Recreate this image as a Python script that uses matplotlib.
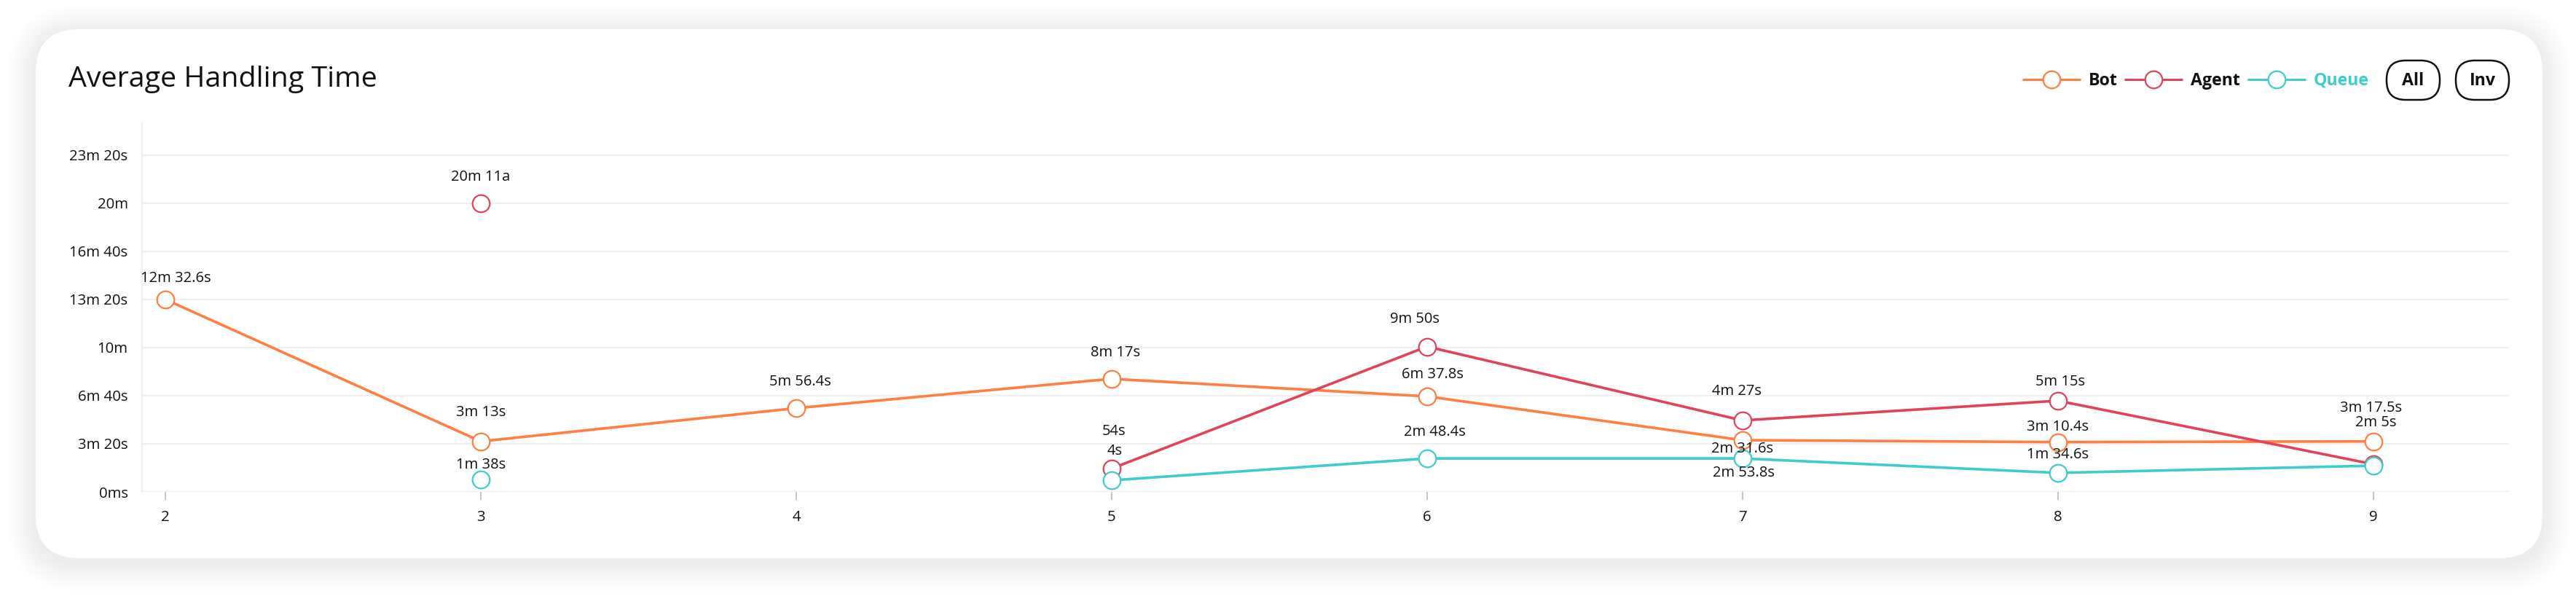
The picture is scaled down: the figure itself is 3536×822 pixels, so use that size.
import matplotlib
matplotlib.use('Agg')
import matplotlib.pyplot as plt
from matplotlib.patches import FancyBboxPatch
import numpy as np

# ---------------- data ----------------
x_cats = [2, 3, 4, 5, 6, 7, 8, 9]
bot_vals = [800, 210, 348, 470, 397, 215, 207, 210]
agent_vals = [None, 1200, None, 97, 604, 297, 379, 115]
queue_vals = [None, 52, None, 48, 139, 139, 79, 109]

bot_labels = ['12m 32.6s', '3m 13s', '5m 56.4s', '8m 17s', '6m 37.8s', '2m 31.6s', '3m 10.4s', '3m 17.5s']
agent_labels = [None, '20m 11a', None, '54s', '9m 50s', '4m 27s', '5m 15s', '2m 5s']
queue_labels = [None, '1m 38s', None, '4s', '2m 48.4s', '2m 53.8s', '1m 34.6s', None]

y_ticks = [0, 200, 400, 600, 800, 1000, 1200, 1400]
y_tick_labels = ['0ms', '3m 20s', '6m 40s', '10m', '13m 20s', '16m 40s', '20m', '23m 20s']

series_names = ['Bot', 'Agent', 'Queue']
title_text = 'Average Handling Time'

# ---------------- style ----------------
W, H, DPI = 3536, 822, 100
FONT = 'Open Sans'
plt.rcParams['font.family'] = [FONT, 'DejaVu Sans']

C_BOT = '#ff7e42'
C_AGENT = '#e2435a'
C_QUEUE = '#3ecdcc'
GRID = '#efefef'
TXT = '#111111'

# label offsets in pixels (dx, dy up)
bot_off = [(14, 29), (0, 40), (5, 36), (5, 36), (8, 30), (0, -12), (0, 21), (-3, 46)]
agent_off = [None, (0, 36), None, (3, 51), (-17, 38), (-8, 40), (3, 26), (3, 57)]
queue_off = [None, (0, 20), None, (4, 40), (11, 36), (2, -20), (0, 25), None]

fig = plt.figure(figsize=(W / DPI, H / DPI), dpi=DPI)
fig.patch.set_facecolor('white')
renderer = fig.canvas.get_renderer()


def fit_size(s, target_px, weight='normal', base=20.0):
    t = fig.text(0, 0, s, fontsize=base, fontweight=weight)
    w = t.get_window_extent(renderer).width
    t.remove()
    return base * target_px / w


FS_TITLE = fit_size(title_text, 423)
FS_TICK = fit_size('23m 20s', 80)
FS_LABEL = fit_size('12m 32.6s', 96)
FS_LEG = fit_size('Agent', 68, weight='bold')

# background axes in pixel coordinates
bg = fig.add_axes([0, 0, 1, 1], zorder=0)
bg.set_xlim(0, W)
bg.set_ylim(H, 0)
bg.axis('off')

cx0, cy0, cx1, cy1 = 49, 40, 3490, 766
for i in range(18, 0, -1):
    p = FancyBboxPatch((cx0 - i * 2.2, cy0 - i * 2.2 + 6), (cx1 - cx0) + i * 4.4, (cy1 - cy0) + i * 4.4,
                       boxstyle='round,pad=0,rounding_size=%f' % (60 + i * 2.2),
                       facecolor='#000000', edgecolor='none', alpha=0.0045)
    bg.add_patch(p)
card = FancyBboxPatch((cx0, cy0), cx1 - cx0, cy1 - cy0, boxstyle='round,pad=0,rounding_size=60',
                      facecolor='white', edgecolor='none')
bg.add_patch(card)

# title
bg.text(94, 119, title_text, fontsize=FS_TITLE, color=TXT, ha='left', va='baseline')

# legend
leg_items = [(2776, series_names[0], C_BOT, TXT), (2916, series_names[1], C_AGENT, TXT),
             (3085, series_names[2], C_QUEUE, C_QUEUE)]
for lx, name, col, tcol in leg_items:
    bg.plot([lx, lx + 80], [109, 109], color=col, lw=2.2, solid_capstyle='butt')
    bg.plot([lx + 40], [109], marker='o', ms=17, mfc='white', mec=col, mew=1.6)
    bg.text(lx + 91, 111, name, fontsize=FS_LEG, fontweight='bold', color=tcol, ha='left', va='center')

for bx, btxt in [(3276, 'All'), (3371, 'Inv')]:
    b = FancyBboxPatch((bx, 83), 73, 54, boxstyle='round,pad=0,rounding_size=26',
                       facecolor='white', edgecolor=TXT, lw=1.8)
    bg.add_patch(b)
    bg.text(bx + 36.5, 111, btxt, fontsize=FS_LEG, fontweight='bold', color=TXT, ha='center', va='center')

# main axes
left, right, top, bottom = 195, 3444, 168, 675
ax = fig.add_axes([left / W, 1 - bottom / H, (right - left) / W, (bottom - top) / H], zorder=1)
ax.patch.set_alpha(0)
ax.set_xlim(1.926, 9.43)
ax.set_ylim(0, 1536)

ax.set_yticks(y_ticks)
ax.set_yticklabels(y_tick_labels)
ax.set_xticks(x_cats)
ax.set_xticklabels([str(v) for v in x_cats])
ax.yaxis.grid(True, color=GRID, lw=1.6)
ax.set_axisbelow(True)
for s in ['top', 'right', 'bottom']:
    ax.spines[s].set_visible(False)
ax.spines['left'].set_color(GRID)
ax.spines['left'].set_linewidth(1.6)
ax.tick_params(axis='y', length=0, pad=14, labelsize=FS_TICK, labelcolor=TXT)
ax.tick_params(axis='x', length=8, width=1.2, color='#bbbbbb', direction='out', pad=10,
               labelsize=FS_TICK, labelcolor=TXT)
ax.axhline(0, color=GRID, lw=1.6, zorder=0.5)


def arr(v):
    return np.array([np.nan if a is None else a for a in v], dtype=float)


for vals, col, labels, offs, z in [(bot_vals, C_BOT, bot_labels, bot_off, 3),
                                   (agent_vals, C_AGENT, agent_labels, agent_off, 4),
                                   (queue_vals, C_QUEUE, queue_labels, queue_off, 5)]:
    y = arr(vals)
    ax.plot(x_cats, y, color=col, lw=2.6, marker='o', ms=17, mfc='white', mec=col, mew=1.6,
            zorder=z, clip_on=False)
    for xi, yi, lab, off in zip(x_cats, y, labels, offs):
        if lab is None or np.isnan(yi):
            continue
        ax.annotate(lab, (xi, yi), xytext=off, textcoords='offset pixels', ha='center', va='center',
                    fontsize=FS_LABEL, color=TXT, zorder=10)

fig.savefig('out.png', dpi=DPI, facecolor=fig.get_facecolor())
